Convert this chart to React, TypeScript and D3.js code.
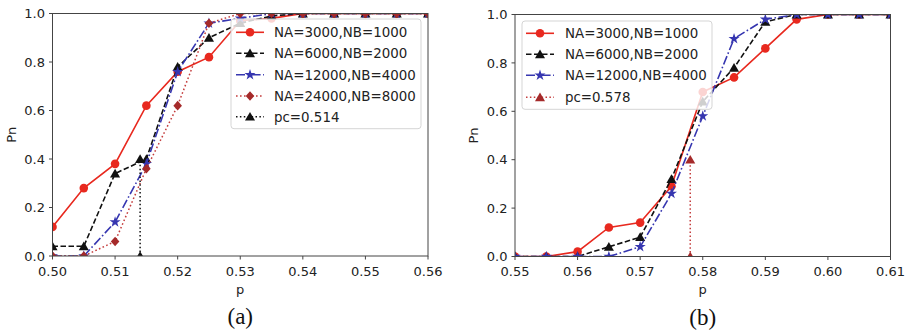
import React from "react";
import * as d3 from "d3";

const pA = [0.5, 0.505, 0.51, 0.515, 0.52, 0.525, 0.53, 0.535, 0.54, 0.545, 0.55, 0.555, 0.56];
const a3000 = [0.12, 0.28, 0.38, 0.62, 0.76, 0.82, 0.97, 0.98, 1.0, 1.0, 1.0, 1.0, 1.0];
const a6000 = [0.04, 0.04, 0.34, 0.4, 0.78, 0.9, 0.96, 0.99, 1.0, 1.0, 1.0, 1.0, 1.0];
const a12000 = [0.0, 0.0, 0.14, 0.38, 0.76, 0.96, 0.98, 1.0, 1.0, 1.0, 1.0, 1.0, 1.0];
const a24000 = [0.0, 0.0, 0.06, 0.36, 0.62, 0.96, 1.0, 1.0, 1.0, 1.0, 1.0, 1.0, 1.0];
const pcAx = [0.514, 0.514];
const pcAy = [0.0, 0.4];

const pB = [0.55, 0.555, 0.56, 0.565, 0.57, 0.575, 0.58, 0.585, 0.59, 0.595, 0.6, 0.605, 0.61];
const b3000 = [0.0, 0.0, 0.02, 0.12, 0.14, 0.29, 0.68, 0.74, 0.86, 0.98, 1.0, 1.0, 1.0];
const b6000 = [0.0, 0.0, 0.0, 0.04, 0.08, 0.32, 0.64, 0.78, 0.97, 1.0, 1.0, 1.0, 1.0];
const b12000 = [0.0, 0.0, 0.0, 0.0, 0.04, 0.26, 0.58, 0.9, 0.98, 1.0, 1.0, 1.0, 1.0];
const pcBx = [0.578, 0.578];
const pcBy = [0.0, 0.4];

const xTicksA = [0.5, 0.51, 0.52, 0.53, 0.54, 0.55, 0.56];
const xTicksB = [0.55, 0.56, 0.57, 0.58, 0.59, 0.6, 0.61];
const yTicks = [0, 0.2, 0.4, 0.6, 0.8, 1.0];

const RED = "#e8291f";
const BLACK = "#111111";
const BLUE = "#3636b0";
const BROWN = "#a52a2a";
const FONT = "DejaVu Sans, sans-serif";

type Series = {
  label: string;
  xs: number[];
  ys: number[];
  color: string;
  markerColor: string;
  dash: string;
  marker: "circle" | "triangle" | "star" | "diamond";
  width: number;
};

function Marker({ type, x, y, color }: { type: string; x: number; y: number; color: string }) {
  if (type === "circle") return <circle cx={x} cy={y} r={4.3} fill={color} />;
  if (type === "diamond") {
    const h = 4.8, w = 4.3;
    return <path d={`M${x},${y - h}L${x + w},${y}L${x},${y + h}L${x - w},${y}Z`} fill={color} />;
  }
  let sym: any = d3.symbolTriangle;
  let size = 44;
  if (type === "star") { sym = d3.symbolStar; size = 38; }
  const path = d3.symbol().type(sym).size(size)()!;
  const dy = type === "triangle" ? 1 : 0;
  return <path d={path} transform={`translate(${x},${y + dy})`} fill={color} />;
}

function Panel({
  series, x0, x1, y0, y1, dom, xTicks, legend, caption,
}: {
  series: Series[]; x0: number; x1: number; y0: number; y1: number; dom: [number, number];
  xTicks: number[]; legend: { x: number; y: number; w: number; rows: number[]; lx: number; tx: number };
  caption: string;
}) {
  const x = d3.scaleLinear().domain(dom).range([x0, x1]);
  const y = d3.scaleLinear().domain([0, 1]).range([y1, y0]);
  const line = d3.line<[number, number]>().x((d) => x(d[0])).y((d) => y(d[1]));
  const clipId = "clip" + caption.replace(/\W/g, "");
  const lh = legend.rows[legend.rows.length - 1] - legend.y + 12;
  return (
    <g>
      <defs>
        <clipPath id={clipId}>
          <rect x={x0} y={y0} width={x1 - x0} height={y1 - y0} />
        </clipPath>
      </defs>
      <g clipPath={`url(#${clipId})`}>
        {series.map((s, i) => (
          <g key={i}>
            <path d={line(s.xs.map((v, j) => [v, s.ys[j]]))!} fill="none" stroke={s.color} strokeWidth={s.width} strokeDasharray={s.dash} />
            {s.xs.map((v, j) => (
              <Marker key={j} type={s.marker} x={x(v)} y={y(s.ys[j])} color={s.markerColor} />
            ))}
          </g>
        ))}
      </g>
      <rect x={x0} y={y0} width={x1 - x0} height={y1 - y0} fill="none" stroke="#444" strokeWidth={1} />
      {xTicks.map((t) => (
        <g key={t}>
          <line x1={x(t)} x2={x(t)} y1={y1} y2={y1 + 3.5} stroke="#444" />
          <text x={x(t)} y={y1 + 19.5} textAnchor="middle" fontSize={13} fontFamily={FONT} fill="#222">
            {t.toFixed(2)}
          </text>
        </g>
      ))}
      {yTicks.map((t) => (
        <g key={t}>
          <line x1={x0 - 3.5} x2={x0} y1={y(t)} y2={y(t)} stroke="#444" />
          <text x={x0 - 7.5} y={y(t) + 4.7} textAnchor="end" fontSize={13} fontFamily={FONT} fill="#222">
            {t.toFixed(1)}
          </text>
        </g>
      ))}
      <text x={(x0 + x1) / 2} y={y1 + 37.5} textAnchor="middle" fontSize={13} fontFamily={FONT} fill="#222">p</text>
      <text transform={`translate(${x0 - 37},${(y0 + y1) / 2}) rotate(-90)`} textAnchor="middle" fontSize={13} fontFamily={FONT} fill="#222">Pn</text>
      <text x={(x0 + x1) / 2} y={y1 + 68} textAnchor="middle" fontSize={23} fontFamily="Liberation Serif, serif" fill="#111">{caption}</text>
      <rect x={legend.x} y={legend.y} width={legend.w} height={lh} rx={3} fill="white" fillOpacity={0.8} stroke="#d5d5d5" />
      {series.map((s, i) => {
        const ry = legend.rows[i];
        return (
          <g key={i}>
            <line x1={legend.lx} x2={legend.lx + 28} y1={ry} y2={ry} stroke={s.color} strokeWidth={s.width} strokeDasharray={s.dash} />
            <Marker type={s.marker} x={legend.lx + 14} y={ry} color={s.markerColor} />
            <text x={legend.tx} y={ry + 4.8} fontSize={13.4} fontFamily={FONT} fill="#222">{s.label}</text>
          </g>
        );
      })}
    </g>
  );
}

export default function App() {
  const seriesA: Series[] = [
    { label: "NA=3000,NB=1000", xs: pA, ys: a3000, color: RED, markerColor: RED, dash: "", marker: "circle", width: 1.6 },
    { label: "NA=6000,NB=2000", xs: pA, ys: a6000, color: BLACK, markerColor: BLACK, dash: "5.5,2.5", marker: "triangle", width: 1.6 },
    { label: "NA=12000,NB=4000", xs: pA, ys: a12000, color: BLUE, markerColor: BLUE, dash: "9,2.5,1.6,2.5", marker: "star", width: 1.6 },
    { label: "NA=24000,NB=8000", xs: pA, ys: a24000, color: "#c43c3c", markerColor: BROWN, dash: "1.6,2.4", marker: "diamond", width: 1.5 },
    { label: "pc=0.514", xs: pcAx, ys: pcAy, color: BLACK, markerColor: BLACK, dash: "1.5,2.4", marker: "triangle", width: 1.5 },
  ];
  const seriesB: Series[] = [
    { label: "NA=3000,NB=1000", xs: pB, ys: b3000, color: RED, markerColor: RED, dash: "", marker: "circle", width: 1.6 },
    { label: "NA=6000,NB=2000", xs: pB, ys: b6000, color: BLACK, markerColor: BLACK, dash: "5.5,2.5", marker: "triangle", width: 1.6 },
    { label: "NA=12000,NB=4000", xs: pB, ys: b12000, color: BLUE, markerColor: BLUE, dash: "9,2.5,1.6,2.5", marker: "star", width: 1.6 },
    { label: "pc=0.578", xs: pcBx, ys: pcBy, color: "#c43c3c", markerColor: BROWN, dash: "1.5,2.4", marker: "triangle", width: 1.5 },
  ];
  return (
    <svg width={907} height={336} style={{ position: "absolute", left: 0, top: 0, background: "white" }}>
      <rect width={907} height={336} fill="white" />
      <Panel
        series={seriesA} x0={52.5} x1={428} y0={13.5} y1={256} dom={[0.5, 0.56]} xTicks={xTicksA}
        legend={{ x: 231, y: 19, w: 190, rows: [32.3, 53.3, 74.7, 96, 116.7], lx: 236, tx: 274 }}
        caption="(a)"
      />
      <Panel
        series={seriesB} x0={515} x1={890.5} y0={14.5} y1={256.5} dom={[0.55, 0.61]} xTicks={xTicksB}
        legend={{ x: 522, y: 21, w: 190, rows: [33.3, 54.3, 75.3, 97.3], lx: 526, tx: 565 }}
        caption="(b)"
      />
    </svg>
  );
}
